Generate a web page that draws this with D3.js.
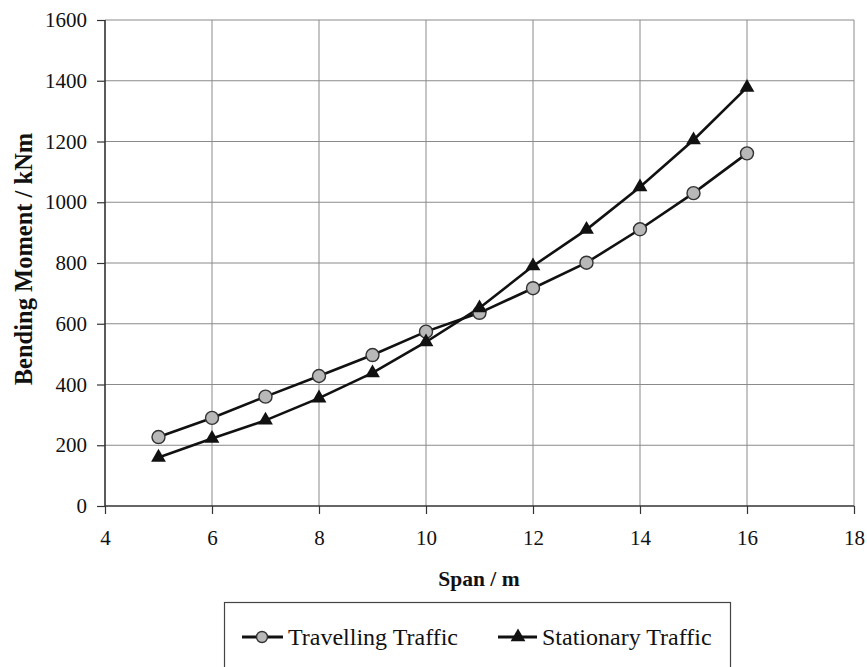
<!DOCTYPE html>
<html>
<head>
<meta charset="utf-8">
<script src="https://cdn.jsdelivr.net/npm/d3@7"></script>
<style>
  html, body { margin: 0; padding: 0; background: #fff; }
  svg { display: block; }
  text { font-family: "Liberation Serif", "Times New Roman", serif; fill: #111; }
</style>
</head>
<body>
<svg id="chart" width="867" height="667"></svg>
<script>
// Span (m) against bending moment (kNm)
const spans = [5, 6, 7, 8, 9, 10, 11, 12, 13, 14, 15, 16];
const travelling = [227, 290, 360, 428, 497, 574, 636, 717, 801, 911, 1030, 1161];
const stationary = [160, 222, 282, 355, 438, 540, 652, 790, 910, 1050, 1205, 1378];
const xTicks = [4, 6, 8, 10, 12, 14, 16, 18];
const yTicks = [0, 200, 400, 600, 800, 1000, 1200, 1400, 1600];
const seriesNames = ["Travelling Traffic", "Stationary Traffic"];

const svg = d3.select("#chart");
const plotLeft = 105, plotRight = 854, plotTop = 20, plotBottom = 506;

const x = d3.scaleLinear().domain([4, 18]).range([plotLeft, plotRight]);
const y = d3.scaleLinear().domain([0, 1600]).range([plotBottom, plotTop]);

// Grid lines
svg.append("g").selectAll("line").data(xTicks.slice(1)).join("line")
  .attr("x1", d => x(d)).attr("x2", d => x(d))
  .attr("y1", plotTop).attr("y2", plotBottom)
  .attr("stroke", "#8a8a8a").attr("stroke-width", 1);
svg.append("g").selectAll("line").data(yTicks.slice(1)).join("line")
  .attr("x1", plotLeft).attr("x2", plotRight)
  .attr("y1", d => y(d)).attr("y2", d => y(d))
  .attr("stroke", "#8a8a8a").attr("stroke-width", 1);

// Axes
const xAxis = d3.axisBottom(x).tickValues(xTicks).tickSize(8).tickPadding(16).tickFormat(d3.format("d"));
const yAxis = d3.axisLeft(y).tickValues(yTicks).tickSize(8).tickPadding(10).tickFormat(d3.format("d"));

const gx = svg.append("g").attr("transform", `translate(0,${plotBottom})`).call(xAxis);
const gy = svg.append("g").attr("transform", `translate(${plotLeft},0)`).call(yAxis);
[gx, gy].forEach(g => {
  g.select(".domain").attr("stroke", "#333").attr("stroke-width", 1.6);
  g.selectAll(".tick line").attr("stroke", "#333").attr("stroke-width", 1.2);
  g.selectAll(".tick text")
    .style("font-family", "'Liberation Serif', serif")
    .style("font-size", "21px").attr("fill", "#222");
});
gx.select(".domain").attr("d", `M${plotLeft},0H${plotRight}`);
gy.select(".domain").attr("d", `M0,${plotBottom}V${plotTop}`);

// Axis titles
svg.append("text")
  .attr("x", 479).attr("y", 586)
  .attr("text-anchor", "middle")
  .style("font-size", "21.5px").style("font-weight", "bold")
  .text("Span / m");
svg.append("text")
  .attr("transform", "translate(32,259) rotate(-90)")
  .attr("text-anchor", "middle")
  .style("font-size", "24.5px").style("font-weight", "bold")
  .text("Bending Moment / kNm");

// Series lines
const line = d3.line().x(d => x(d[0])).y(d => y(d[1]));
const travData = spans.map((s, i) => [s, travelling[i]]);
const statData = spans.map((s, i) => [s, stationary[i]]);

svg.append("path").datum(travData).attr("d", line)
  .attr("fill", "none").attr("stroke", "#111").attr("stroke-width", 2.6);
svg.append("path").datum(statData).attr("d", line)
  .attr("fill", "none").attr("stroke", "#111").attr("stroke-width", 2.6);

const tri = d3.symbol().type(d3.symbolTriangle).size(95);

svg.append("g").selectAll("circle").data(travData).join("circle")
  .attr("cx", d => x(d[0])).attr("cy", d => y(d[1])).attr("r", 6.5)
  .attr("fill", "#b8b8b8").attr("stroke", "#333").attr("stroke-width", 1.4);
svg.append("g").selectAll("path").data(statData).join("path")
  .attr("d", tri)
  .attr("transform", d => `translate(${x(d[0])},${y(d[1])})`)
  .attr("fill", "#111");

// Legend
const legend = svg.append("g");
legend.append("rect")
  .attr("x", 224.5).attr("y", 602.5).attr("width", 506).attr("height", 80)
  .attr("fill", "#fff").attr("stroke", "#444").attr("stroke-width", 1.2);

const lg1 = legend.append("g").attr("transform", "translate(242,637)");
lg1.append("line").attr("x1", 0).attr("x2", 41).attr("stroke", "#111").attr("stroke-width", 3);
lg1.append("circle").attr("cx", 20).attr("r", 5.5).attr("fill", "#b8b8b8").attr("stroke", "#333").attr("stroke-width", 1.4);
lg1.append("text").attr("x", 46).attr("y", 8).style("font-size", "24px").text(seriesNames[0]);

const lg2 = legend.append("g").attr("transform", "translate(498,637)");
lg2.append("line").attr("x1", 0).attr("x2", 39).attr("stroke", "#111").attr("stroke-width", 3);
lg2.append("path").attr("d", tri).attr("transform", "translate(20,0)").attr("fill", "#111");
lg2.append("text").attr("x", 44).attr("y", 8).style("font-size", "24px").text(seriesNames[1]);
</script>
</body>
</html>
